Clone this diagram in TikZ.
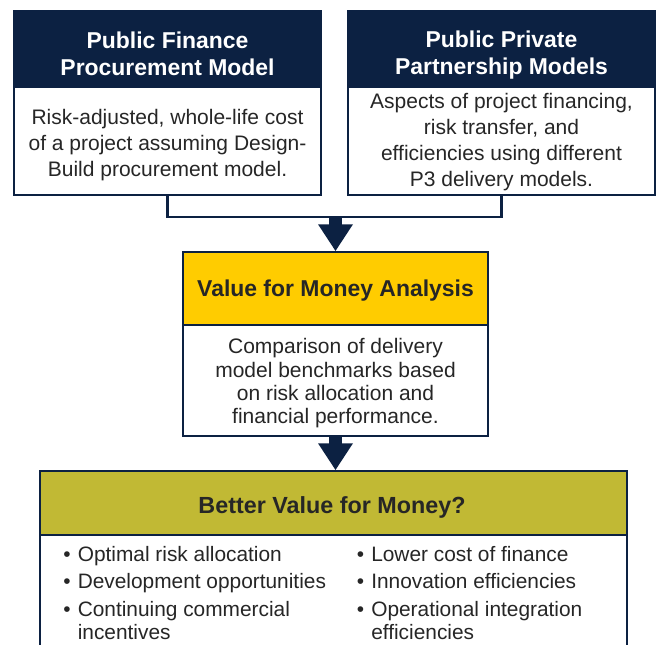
\documentclass[tikz,border=0pt]{standalone}
\usepackage{fontspec}
\setmainfont{Liberation Sans}
\usepackage{xcolor}
\usepackage{tikz}
\usetikzlibrary{arrows.meta}

\definecolor{navy}{HTML}{0C2142}
\definecolor{gold}{HTML}{FFCC00}
\definecolor{olive}{HTML}{C1B934}
\definecolor{ink}{HTML}{262626}

\tikzset{
  box/.style={draw=navy, line width=1.1pt, inner sep=0pt},
  title/.style={inner sep=0pt, align=center, font=\fontsize{17.2}{20}\selectfont\bfseries},
  note/.style={inner sep=0pt, align=center, text=ink, font=\fontsize{15.75}{19.5}\selectfont},
  items/.style={inner sep=0pt, anchor=north west, text=ink,
    font=\fontsize{15.65}{17.25}\selectfont},
  link/.style={draw=navy, line width=1.6pt},
  flow/.style={navy, line width=9.75pt, -{Triangle[width=24.75pt,length=20.25pt]}},
}

\begin{document}
\begin{tikzpicture}[x=0.75pt,y=-0.75pt]
    \clip (0,0) rectangle (658,645);

    % two delivery models
    \node[box, fill=navy, minimum width=230.25pt, minimum height=57pt] (pfHead) at (167.5,49) {};
    \node[box, fill=white, minimum width=230.25pt, minimum height=81pt] (pfBody) at (167.5,141) {};
    \node[title, text=white] (pfTitle) at (167.5,53.5) {Public Finance\\Procurement Model};
    \node[note] (pfText) at (167.5,145) {Risk-adjusted, whole-life cost\\of a project assuming Design-\\Build procurement model.};

    \node[box, fill=navy, minimum width=230.25pt, minimum height=57pt] (ppHead) at (501.5,49) {};
    \node[box, fill=white, minimum width=230.25pt, minimum height=81pt] (ppBody) at (501.5,141) {};
    \node[title, text=white] (ppTitle) at (501.5,55) {Public Private\\Partnership Models};
    \node[note] (ppText) at (501.5,142.5) {Aspects of project financing,\\risk transfer, and\\efficiencies using different\\P3 delivery models.};

    % analysis
    \node[box, fill=gold, minimum width=228.75pt, minimum height=54.75pt] (vfmHead) at (335.5,288.5) {};
    \node[box, fill=white, minimum width=228.75pt, minimum height=83.25pt] (vfmBody) at (335.5,380.5) {};
    \node[title, text=ink] (vfmTitle) at (335.5,290.5) {Value for Money Analysis};
    \node[note, font=\fontsize{15.75}{17.5}\selectfont] (vfmText) at (335.5,383.5)
      {Comparison of delivery\\model benchmarks based\\on risk allocation and\\financial performance.};

    % result
    \node[box, fill=olive, minimum width=440.25pt, minimum height=48pt] (bvHead) at (333.5,503) {};
    \node[box, fill=white, minimum width=440.25pt, minimum height=93.75pt] (bvBody) at (333.5,597.5) {};
    \node[title, text=ink, font=\fontsize{17.5}{20}\selectfont\bfseries] (bvTitle) at (332,507) {Better Value for Money?};

    \node[items] (prosA) at (63,544.9) {%
      \begin{tabular}{@{}l@{\hspace{5.4pt}}l@{}}
        \textbullet & Optimal risk allocation\\[3.4pt]
        \textbullet & Development opportunities\\[3.4pt]
        \textbullet & Continuing commercial\\
                    & incentives
      \end{tabular}};
    \node[items] (prosB) at (356.5,544.9) {%
      \begin{tabular}{@{}l@{\hspace{5.4pt}}l@{}}
        \textbullet & Lower cost of finance\\[3.4pt]
        \textbullet & Innovation efficiencies\\[3.4pt]
        \textbullet & Operational integration\\
                    & efficiencies
      \end{tabular}};

    % connectors
    \coordinate (join) at (335.5,217);
    \draw[flow] (join) -- (vfmHead.north);
    \draw[flow] (vfmBody.south) -- (vfmBody.south |- bvHead.north);
    \draw[link] (pfBody.south) |- (join) -| (ppBody.south);
\end{tikzpicture}
\end{document}
